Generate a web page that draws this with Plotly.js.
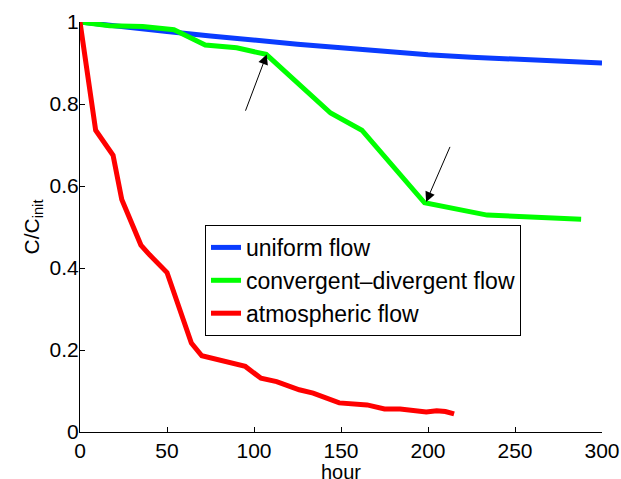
<!DOCTYPE html>
<html>
<head>
<meta charset="utf-8">
<script src="https://cdn.plot.ly/plotly-3.0.1.min.js"></script>
<style>html,body{margin:0;padding:0;background:#fff;}#chart{width:621px;height:479px;}</style>
</head>
<body>
<div id="chart"></div>
<script>
// Data
const seriesNames = ['uniform flow', 'convergent\u2013divergent flow', 'atmospheric flow'];
const uniformHours = [0, 25, 50, 75, 100, 125, 150, 175, 200, 225, 250, 275, 300];
const uniformValues = [1.0, 0.99, 0.977, 0.966, 0.955, 0.946, 0.937, 0.928, 0.92, 0.914, 0.909, 0.904, 0.9];
const convHours = [0, 17, 36, 54, 72, 90, 107, 144, 162, 198, 234, 288];
const convValues = [1.0, 0.991, 0.989, 0.981, 0.944, 0.937, 0.921, 0.778, 0.736, 0.559, 0.529, 0.519];
const atmHours = [0, 9, 19, 24, 35, 40, 50, 64, 70, 88, 95, 104, 113, 126, 134, 149, 165, 175, 184, 199, 205, 210, 215];
const atmValues = [1.0, 0.736, 0.675, 0.567, 0.456, 0.432, 0.389, 0.217, 0.186, 0.168, 0.16, 0.131, 0.123, 0.103, 0.095, 0.071, 0.066, 0.056, 0.056, 0.049, 0.052, 0.05, 0.044];
const xTicks = [0, 50, 100, 150, 200, 250, 300];
const yTicks = [0, 0.2, 0.4, 0.6, 0.8, 1];
const yTickLabels = ['0', '0.2', '0.4', '0.6', '0.8', '1'];
const xTitle = 'hour';
const yTitle = 'C/C<sub>init</sub>';
// arrows: [tailX, tailY, headX, headY]
const arrow1 = [94.8, 0.78, 107.3, 0.921];
const arrow2 = [213, 0.699, 198.9, 0.561];

const colors = ['#0a3cff', '#00ff00', '#ff0000'];
const fontFam = 'Liberation Sans, Arial, Helvetica, sans-serif';

const traces = [
  {x: uniformHours, y: uniformValues, name: seriesNames[0], legendgroup: 'a'},
  {x: convHours, y: convValues, name: seriesNames[1], legendgroup: 'b'},
  {x: atmHours, y: atmValues, name: seriesNames[2], legendgroup: 'c'}
].map((t, i) => Object.assign(t, {
  type: 'scatter', mode: 'lines', cliponaxis: false,
  line: {color: colors[i], width: 5}
}));

function arrowAnn(a) {
  return {x: a[2], y: a[3], ax: a[0], ay: a[1], xref: 'x', yref: 'y', axref: 'x', ayref: 'y',
    showarrow: true, arrowhead: 2, arrowsize: 2, arrowwidth: 1, arrowcolor: '#000', text: ''};
}

const layout = {
  width: 621, height: 479,
  margin: {l: 80, r: 19, t: 22, b: 47},
  paper_bgcolor: '#fff', plot_bgcolor: '#fff',
  font: {family: fontFam, size: 21, color: '#000'},
  showlegend: true,
  legend: {
    x: 0.2395, y: 0.505, xanchor: 'left', yanchor: 'top',
    bgcolor: '#fff', bordercolor: '#000', borderwidth: 1,
    font: {family: fontFam, size: 23, color: '#000'},
    traceorder: 'grouped', tracegroupgap: 0,
    itemwidth: 30
  },
  xaxis: {
    range: [0, 300], tickvals: xTicks, ticks: 'inside', ticklen: 5, tickcolor: '#000',
    showline: true, linecolor: '#000', linewidth: 1, showgrid: false, zeroline: false,
    tickfont: {size: 21}
  },
  yaxis: {
    range: [0, 1], tickvals: yTicks, ticktext: yTickLabels, ticks: 'inside', ticklen: 5, tickcolor: '#000',
    showline: true, linecolor: '#000', linewidth: 1, showgrid: false, zeroline: false,
    ticklabelstandoff: -4,
    tickfont: {size: 21}, title: {text: yTitle, font: {size: 21}, standoff: 4}
  },
  annotations: [
    arrowAnn(arrow1), arrowAnn(arrow2),
    {text: xTitle, xref: 'paper', yref: 'paper', x: 0.5, y: -0.098, xanchor: 'center', yanchor: 'middle',
     showarrow: false, font: {size: 20, color: '#000'}, borderpad: 0}
  ]
};

Plotly.newPlot('chart', traces, layout, {displayModeBar: false, staticPlot: true});
</script>
</body>
</html>
